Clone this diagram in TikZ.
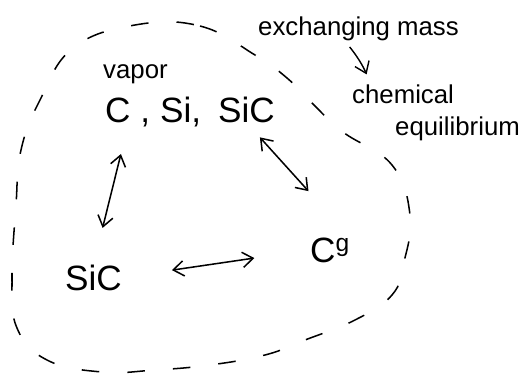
\documentclass[tikz,border=0pt]{standalone}
\usepackage{fontspec}
\setmainfont{Liberation Sans}
\usetikzlibrary{arrows.meta,positioning}
\tikzset {>={Straight Barb[length=9pt,width=13pt]}}
\tikzset{
  big/.style={inner sep=0pt,anchor=base west,font=\fontsize{30}{32}\selectfont},
  small/.style={inner sep=0pt,anchor=base west,font=\fontsize{22}{24}\selectfont},
  twoway/.style={<->,line width=1.3pt}
}

\begin{document}
\begin{tikzpicture}[x=0.03cm,y=-0.03cm]
\useasboundingbox (0,0) rectangle (530,379);
% the region that exchanges mass
\draw[line width=1.3pt,dash pattern=on 15pt off 24pt] plot[smooth cycle,tension=0.7] coordinates {
  (135,25) (200,26) (255,55) (287,78) (312,103) (343,132) (392,165)
  (410,215) (404,262) (392,295) (355,320) (305,340) (265,355) (210,365)
  (155,370) (102,372) (47,360) (17,328) (12,278) (16,205) (21,150)
  (40,100) (73,48)};
\node[small] (vapor) at (103,78) {vapor};
\node[big] (cvap) at (105,122) {C ,};
\node[big] (sivap) at (160,122) {Si,};
\node[big] (sicvap) at (218,122) {SiC};
\node[big] (sic) at (65,290) {SiC};
\node[big] (cg) at (310,262) {C\textsuperscript{g}};
\node[small] (exch) at (258,35) {exchanging mass};
\node[small] (chem) at (352,103) {chemical};
\node[small] (equil) at (395,135) {equilibrium};
\draw[twoway,shorten <=24pt,shorten >=32pt] (cvap.south) -- (sic.north);
\draw[twoway,shorten <=17pt,shorten >=53pt] (sicvap.south) -- (cg.north east);
\draw[twoway,shorten <=43pt,shorten >=48pt] (sic.east) -- (cg.west);
\draw[->,line width=1.2pt,shorten <=7pt,shorten >=9pt] ([xshift=-12pt]exch.south) to[bend left=8] ([xshift=16pt]chem.north west);
\end{tikzpicture}
\end{document}
